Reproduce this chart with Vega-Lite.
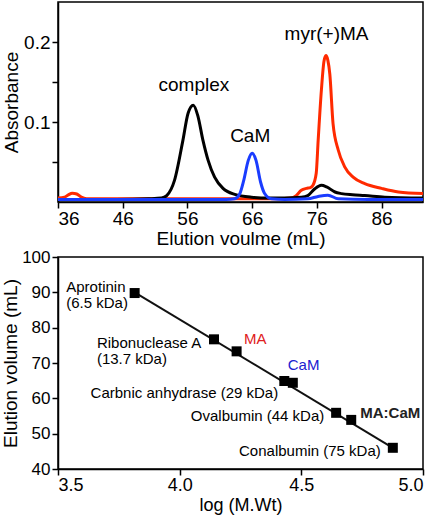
{
  "$schema": "https://vega.github.io/schema/vega-lite/v6.json",
  "padding": {"left": 0, "top": 1, "right": 2, "bottom": 2},
  "spacing": -2,
  "config": {
    "font": "Liberation Sans",
    "view": {"stroke": "black", "strokeWidth": 1.5},
    "axis": {"grid": false, "domainColor": "black", "tickColor": "black", "labelColor": "black", "titleColor": "black", "titleFontWeight": "normal", "domainWidth": 1.5, "tickWidth": 1.5, "tickSize": 6, "labelPadding": 2, "titlePadding": 3}
  },
  "datasets": {
    "trace": [
      {"series": "myr(+)MA", "v": 36.0, "a": 0.005},
      {"series": "myr(+)MA", "v": 37.0, "a": 0.006},
      {"series": "myr(+)MA", "v": 37.6, "a": 0.009},
      {"series": "myr(+)MA", "v": 38.2, "a": 0.011},
      {"series": "myr(+)MA", "v": 38.9, "a": 0.010},
      {"series": "myr(+)MA", "v": 39.6, "a": 0.006},
      {"series": "myr(+)MA", "v": 40.4, "a": 0.004},
      {"series": "myr(+)MA", "v": 44.0, "a": 0.004},
      {"series": "myr(+)MA", "v": 50.0, "a": 0.004},
      {"series": "myr(+)MA", "v": 56.0, "a": 0.004},
      {"series": "myr(+)MA", "v": 62.0, "a": 0.004},
      {"series": "myr(+)MA", "v": 66.0, "a": 0.004},
      {"series": "myr(+)MA", "v": 70.0, "a": 0.004},
      {"series": "myr(+)MA", "v": 72.0, "a": 0.005},
      {"series": "myr(+)MA", "v": 72.8, "a": 0.008},
      {"series": "myr(+)MA", "v": 73.6, "a": 0.0146},
      {"series": "myr(+)MA", "v": 74.4, "a": 0.017},
      {"series": "myr(+)MA", "v": 75.0, "a": 0.018},
      {"series": "myr(+)MA", "v": 75.4, "a": 0.021},
      {"series": "myr(+)MA", "v": 75.9, "a": 0.036},
      {"series": "myr(+)MA", "v": 76.2, "a": 0.077},
      {"series": "myr(+)MA", "v": 76.7, "a": 0.14},
      {"series": "myr(+)MA", "v": 77.1, "a": 0.176},
      {"series": "myr(+)MA", "v": 77.4, "a": 0.183},
      {"series": "myr(+)MA", "v": 77.7, "a": 0.177},
      {"series": "myr(+)MA", "v": 78.0, "a": 0.16},
      {"series": "myr(+)MA", "v": 78.5, "a": 0.098},
      {"series": "myr(+)MA", "v": 79.3, "a": 0.065},
      {"series": "myr(+)MA", "v": 80.3, "a": 0.044},
      {"series": "myr(+)MA", "v": 81.6, "a": 0.031},
      {"series": "myr(+)MA", "v": 83.4, "a": 0.023},
      {"series": "myr(+)MA", "v": 86.0, "a": 0.017},
      {"series": "myr(+)MA", "v": 88.6, "a": 0.0125},
      {"series": "myr(+)MA", "v": 92.4, "a": 0.0105},
      {"series": "complex", "v": 36.0, "a": 0.003},
      {"series": "complex", "v": 40.0, "a": 0.003},
      {"series": "complex", "v": 45.0, "a": 0.003},
      {"series": "complex", "v": 50.0, "a": 0.004},
      {"series": "complex", "v": 52.0, "a": 0.005},
      {"series": "complex", "v": 52.8, "a": 0.008},
      {"series": "complex", "v": 54.0, "a": 0.027},
      {"series": "complex", "v": 55.3, "a": 0.077},
      {"series": "complex", "v": 56.1, "a": 0.111},
      {"series": "complex", "v": 56.9, "a": 0.121},
      {"series": "complex", "v": 57.6, "a": 0.108},
      {"series": "complex", "v": 58.4, "a": 0.077},
      {"series": "complex", "v": 59.2, "a": 0.052},
      {"series": "complex", "v": 60.2, "a": 0.031},
      {"series": "complex", "v": 61.5, "a": 0.017},
      {"series": "complex", "v": 63.3, "a": 0.0095},
      {"series": "complex", "v": 65.9, "a": 0.006},
      {"series": "complex", "v": 68.5, "a": 0.005},
      {"series": "complex", "v": 71.0, "a": 0.005},
      {"series": "complex", "v": 73.6, "a": 0.006},
      {"series": "complex", "v": 74.6, "a": 0.008},
      {"series": "complex", "v": 75.6, "a": 0.016},
      {"series": "complex", "v": 76.7, "a": 0.021},
      {"series": "complex", "v": 77.5, "a": 0.019},
      {"series": "complex", "v": 78.8, "a": 0.0125},
      {"series": "complex", "v": 79.8, "a": 0.0105},
      {"series": "complex", "v": 81.5, "a": 0.009},
      {"series": "complex", "v": 83.4, "a": 0.008},
      {"series": "complex", "v": 86.5, "a": 0.006},
      {"series": "complex", "v": 92.4, "a": 0.005},
      {"series": "CaM", "v": 36.0, "a": 0.003},
      {"series": "CaM", "v": 45.0, "a": 0.003},
      {"series": "CaM", "v": 55.0, "a": 0.003},
      {"series": "CaM", "v": 62.0, "a": 0.003},
      {"series": "CaM", "v": 63.3, "a": 0.004},
      {"series": "CaM", "v": 64.1, "a": 0.0105},
      {"series": "CaM", "v": 64.7, "a": 0.027},
      {"series": "CaM", "v": 65.4, "a": 0.052},
      {"series": "CaM", "v": 66.0, "a": 0.061},
      {"series": "CaM", "v": 66.6, "a": 0.052},
      {"series": "CaM", "v": 67.3, "a": 0.025},
      {"series": "CaM", "v": 67.9, "a": 0.011},
      {"series": "CaM", "v": 69.0, "a": 0.004},
      {"series": "CaM", "v": 71.0, "a": 0.003},
      {"series": "CaM", "v": 74.6, "a": 0.004},
      {"series": "CaM", "v": 76.2, "a": 0.007},
      {"series": "CaM", "v": 77.7, "a": 0.0085},
      {"series": "CaM", "v": 79.3, "a": 0.004},
      {"series": "CaM", "v": 84.0, "a": 0.003},
      {"series": "CaM", "v": 92.4, "a": 0.003}
    ],
    "peaklabels": [
      {"label": "complex", "v": 57.0, "a": 0.146},
      {"label": "CaM", "v": 65.7, "a": 0.083},
      {"label": "myr(+)MA", "v": 77.5, "a": 0.21}
    ],
    "calib": [
      {"protein": "Aprotinin", "kind": "standard", "logmw": 3.815, "ve": 89.8},
      {"protein": "Ribonuclease A", "kind": "standard", "logmw": 4.141, "ve": 76.7},
      {"protein": "MA", "kind": "MA", "logmw": 4.234, "ve": 73.3},
      {"protein": "CaM", "kind": "CaM", "logmw": 4.430, "ve": 64.9},
      {"protein": "Carbonic anhydrase", "kind": "standard", "logmw": 4.465, "ve": 64.4},
      {"protein": "Ovalbumin", "kind": "standard", "logmw": 4.643, "ve": 55.9},
      {"protein": "MA:CaM", "kind": "complex", "logmw": 4.705, "ve": 53.9},
      {"protein": "Conalbumin", "kind": "standard", "logmw": 4.876, "ve": 46.0}
    ],
    "fit": [
      {"logmw": 3.815, "ve": 90.0},
      {"logmw": 4.876, "ve": 46.0}
    ],
    "calibLabels": [
      {"label": "Aprotinin", "kind": "standard", "logmw": 3.534, "ve": 91.6},
      {"label": "(6.5 kDa)", "kind": "standard", "logmw": 3.534, "ve": 86.9},
      {"label": "Ribonuclease A", "kind": "standard", "logmw": 3.66, "ve": 75.7},
      {"label": "(13.7 kDa)", "kind": "standard", "logmw": 3.66, "ve": 71.0},
      {"label": "MA", "kind": "MA", "logmw": 4.264, "ve": 76.7},
      {"label": "CaM", "kind": "CaM", "logmw": 4.444, "ve": 69.4},
      {"label": "Carbnic anhydrase (29 kDa)", "kind": "standard", "logmw": 3.634, "ve": 61.4},
      {"label": "Ovalbumin (44 kDa)", "kind": "standard", "logmw": 4.046, "ve": 55.1},
      {"label": "MA:CaM", "kind": "complex", "logmw": 4.742, "ve": 55.8},
      {"label": "Conalbumin (75 kDa)", "kind": "standard", "logmw": 4.244, "ve": 45.2}
    ]
  },
  "vconcat": [
    {
      "width": 365,
      "height": 200,
      "encoding": {
        "x": {"field": "v", "type": "quantitative", "scale": {"domain": [36, 92.4], "nice": false, "zero": false},
              "axis": {"title": "Elution voulme (mL)", "values": [36, 46, 56, 66, 76, 86], "labelFontSize": 19, "titleFontSize": 19, "labelPadding": 1, "titlePadding": 1}},
        "y": {"field": "a", "type": "quantitative", "scale": {"domain": [0, 0.25], "nice": false},
              "axis": {"title": "Absorbance", "values": [0.05, 0.1, 0.15, 0.2], "labelExpr": "(datum.value > 0.09 && datum.value < 0.11) || (datum.value > 0.19 && datum.value < 0.21) ? format(datum.value, '.1f') : ''", "labelFontSize": 19, "titleFontSize": 19, "titlePadding": 2}}
      },
      "layer": [
        {"data": {"name": "trace"}, "transform": [{"filter": "datum.series === 'myr(+)MA'"}],
         "mark": {"type": "line", "color": "#ff2a00", "strokeWidth": 3, "interpolate": "monotone", "clip": true}},
        {"data": {"name": "trace"}, "transform": [{"filter": "datum.series === 'complex'"}],
         "mark": {"type": "line", "color": "black", "strokeWidth": 3, "interpolate": "monotone", "clip": true}},
        {"data": {"name": "trace"}, "transform": [{"filter": "datum.series === 'CaM'"}],
         "mark": {"type": "line", "color": "#1a3cff", "strokeWidth": 3, "interpolate": "monotone", "clip": true}},
        {"data": {"name": "peaklabels"},
         "mark": {"type": "text", "fontSize": 19, "color": "black", "baseline": "middle", "align": "center"},
         "encoding": {"text": {"field": "label"}}}
      ]
    },
    {
      "width": 365,
      "height": 212,
      "encoding": {
        "x": {"field": "logmw", "type": "quantitative", "scale": {"domain": [3.5, 5.0], "nice": false, "zero": false},
              "axis": {"title": "log (M.Wt)", "values": [3.5, 4.0, 4.5, 5.0], "format": ".1f", "labelFontSize": 18, "titleFontSize": 18, "labelPadding": 1, "titlePadding": 2}},
        "y": {"field": "ve", "type": "quantitative", "scale": {"domain": [40, 100], "nice": false, "zero": false},
              "axis": {"title": "Elution volume (mL)", "values": [40, 50, 60, 70, 80, 90, 100], "labelFontSize": 17, "titleFontSize": 19, "titlePadding": 1}}
      },
      "layer": [
        {"data": {"name": "fit"}, "mark": {"type": "line", "color": "#111", "strokeWidth": 2}},
        {"data": {"name": "calib"}, "mark": {"type": "square", "size": 100, "color": "black", "filled": true, "opacity": 1}},
        {"data": {"name": "calibLabels"}, "transform": [{"filter": "datum.kind !== 'complex'"}],
         "mark": {"type": "text", "fontSize": 15, "align": "left", "baseline": "middle"},
         "encoding": {"text": {"field": "label"},
                      "color": {"field": "kind", "type": "nominal", "legend": null,
                                "scale": {"domain": ["standard", "MA", "CaM"], "range": ["black", "#e02020", "#2020d0"]}}}},
        {"data": {"name": "calibLabels"}, "transform": [{"filter": "datum.kind === 'complex'"}],
         "mark": {"type": "text", "fontSize": 15, "fontWeight": "bold", "align": "left", "baseline": "middle", "color": "#222"},
         "encoding": {"text": {"field": "label"}}}
      ]
    }
  ]
}
